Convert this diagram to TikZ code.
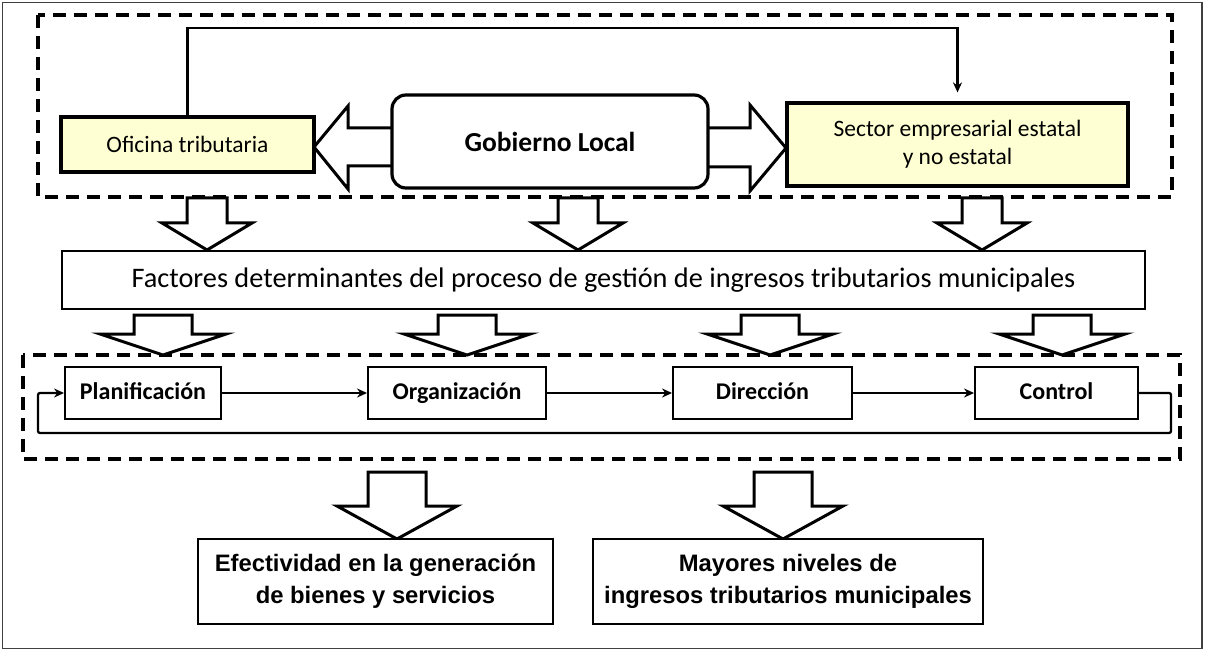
\documentclass[tikz,border=0pt]{standalone}
\usepackage{fontspec}
\setmainfont{Carlito}
\newfontfamily\arialf{Liberation Sans}
\usetikzlibrary{arrows.meta}
\definecolor{lightyel}{RGB}{255,255,212}
\newcommand{\blkdn}[6]{%
  \draw[blk] ({#1-#5},#2) -- ({#1+#5},#2) -- ({#1+#5},#3) -- ({#1+#6},#3) -- (#1,#4) -- ({#1-#6},#3) -- ({#1-#5},#3) -- cycle;}
\begin{document}
\begin{tikzpicture}[x=1pt,y=-1pt,
  blk/.style={draw=black,line width=3pt,fill=white,line join=miter},
  dbox/.style={draw=black,line width=3.4pt,dash pattern=on 13pt off 8pt},
  ybox/.style={draw=black,line width=3.2pt,fill=lightyel,inner sep=0pt,align=center,font=\fontsize{23.5}{28}\selectfont},
  pbox/.style={draw=black,line width=1.9pt,fill=white,inner sep=0pt,minimum height=52pt,text height=17pt,text depth=5pt,font=\bfseries\fontsize{24}{28}\selectfont},
  rbox/.style={draw=black,line width=1.9pt,fill=white,inner sep=0pt,minimum height=85pt,align=center,font=\arialf\bfseries\fontsize{23.8}{32}\selectfont},
  conn/.style={line width=2.3pt,-{Stealth[length=10pt,width=9pt]}}]
\useasboundingbox (0,0) rectangle (1206,652);
% outer frame
\draw[line width=1.4pt,draw=black!75] (2.5,2.5) rectangle (1202,648.5);
% dashed groups
\draw[dbox] (38,15) rectangle (1172,197);
\draw[dbox] (23,355) rectangle (1180,459);
% horizontal block arrows
\draw[blk] (396,128) -- (348,128) -- (348,106) -- (314,147) -- (348,189) -- (348,166) -- (396,166) -- cycle;
\draw[blk] (704,128) -- (750,128) -- (750,105) -- (786,148) -- (750,191) -- (750,167) -- (704,167) -- cycle;
% down block arrows (top)
\blkdn{207}{198}{223}{250}{20}{45}
\blkdn{578}{198}{223}{250}{20}{45}
\blkdn{982}{198}{223}{250}{20}{45}
% down block arrows (middle)
\blkdn{163}{315}{334}{355}{29}{63}
\blkdn{467}{315}{334}{355}{29}{63}
\blkdn{770}{315}{334}{355}{29}{63}
\blkdn{1062}{315}{334}{355}{29}{63}
% down block arrows (bottom)
\blkdn{397}{472}{506}{539}{29}{60}
\blkdn{783}{472}{506}{539}{29}{60}
% nodes
\node[ybox,minimum width=253pt,minimum height=55pt] (ofi) at (187.5,144.5) {Oficina tributaria};
\node[draw=black,line width=3.2pt,fill=white,rounded corners=14pt,minimum width=316pt,minimum height=93pt,inner sep=0pt,font=\bfseries\fontsize{27.5}{32}\selectfont] (gob) at (550,141.5) {Gobierno Local};
\node[ybox,minimum width=341pt,minimum height=83pt] (sec) at (957.5,144.5) {Sector empresarial estatal\\y no estatal};
\node[draw=black,line width=2.5pt,fill=white,minimum width=1083pt,minimum height=58pt,inner sep=0pt,font=\fontsize{28.3}{32}\selectfont] (fac) at (603.5,280) {Factores determinantes del proceso de gestión de ingresos tributarios municipales};
\node[pbox,minimum width=156pt] (pla) at (143,393) {Planificación};
\node[pbox,minimum width=178pt] (org) at (457,393) {Organización};
\node[pbox,minimum width=179pt] (dir) at (762.5,393) {Dirección};
\node[pbox,minimum width=163pt] (con) at (1056.5,393) {Control};
\node[rbox,minimum width=355pt] (efe) at (375.5,581.5) {Efectividad en la generación\\de bienes y servicios};
\node[rbox,minimum width=390pt] (may) at (788,581.5) {Mayores niveles de\\ingresos tributarios municipales};
% connectors
\coordinate (fb) at (957.5,28);
\draw[conn,shorten >=9pt] (ofi.north) |- (fb) -- (sec.north);
\draw[conn] (pla) -- (org);
\draw[conn] (org) -- (dir);
\draw[conn] (dir) -- (con);
\coordinate (lr) at (1171,433);
\coordinate (ll) at (38,433);
\draw[conn,rounded corners=2pt] (con.east) -| (lr) -- (ll) |- (pla.west);
\end{tikzpicture}
\end{document}
